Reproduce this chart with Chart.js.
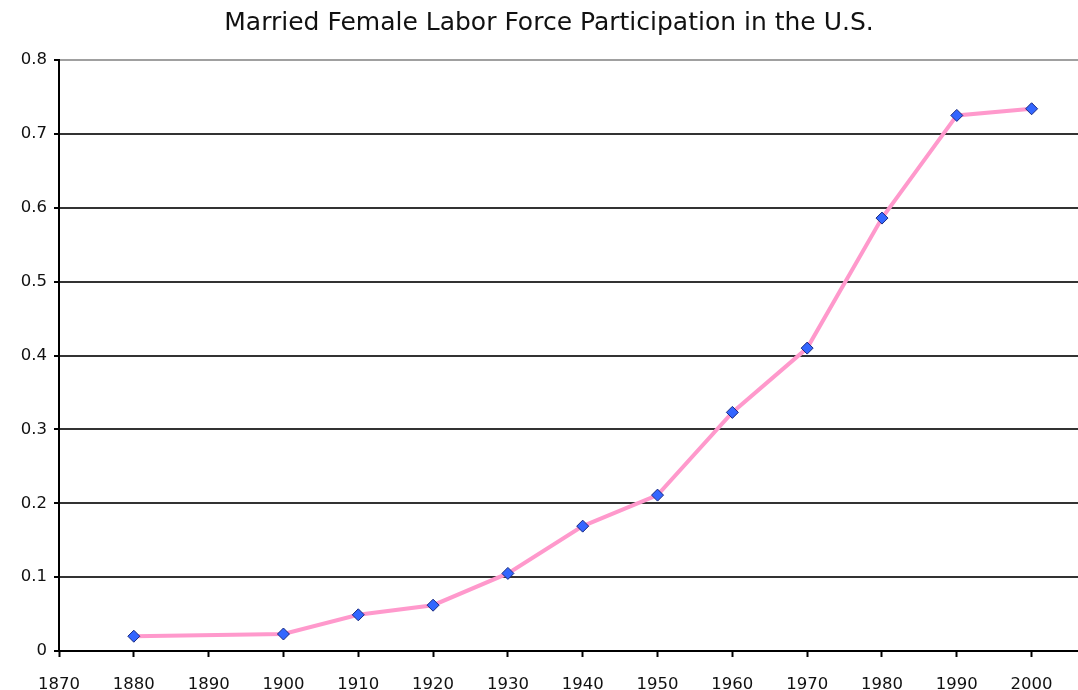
<!DOCTYPE html>
<html>
<head>
<meta charset="utf-8">
<script src="https://cdn.jsdelivr.net/npm/chart.js@4/dist/chart.umd.min.js"></script>
<style>
  html, body { margin: 0; padding: 0; background: #fff; }
  #wrap { width: 1078px; height: 690px; }
</style>
</head>
<body>
<div id="wrap"><canvas id="chart"></canvas></div>
<script>
// data
var years = [1880, 1900, 1910, 1920, 1930, 1940, 1950, 1960, 1970, 1980, 1990, 2000];
var participation = [0.020, 0.023, 0.049, 0.062, 0.105, 0.169, 0.211, 0.323, 0.410, 0.586, 0.725, 0.734];
var xTicks = [1870, 1880, 1890, 1900, 1910, 1920, 1930, 1940, 1950, 1960, 1970, 1980, 1990, 2000];
var yTicks = [0, 0.1, 0.2, 0.3, 0.4, 0.5, 0.6, 0.7, 0.8];

var points = years.map(function (y, i) {
    return { x: y, y: participation[i] };
});

var fontFamily = "'DejaVu Sans', Verdana, sans-serif";

new Chart(document.getElementById("chart"), {
    type: "scatter",
    data: {
        datasets: [{
            data: points,
            showLine: true,
            borderColor: "#ff99cc",
            borderWidth: 4,
            pointStyle: "rectRot",
            pointRadius: 6,
            pointBackgroundColor: "#3366ff",
            pointBorderColor: "#1a2a80",
            pointBorderWidth: 1
        }]
    },
    options: {
        responsive: true,
        maintainAspectRatio: false,
        animation: false,
        // a little left padding nudges the title centre to the right
        layout: { padding: { left: 20, right: 0, top: 0, bottom: 0 }, autoPadding: false },
        plugins: {
            legend: { display: false },
            tooltip: { enabled: false },
            title: {
                display: true,
                text: "Married Female Labor Force Participation in the U.S.",
                color: "#111",
                font: { family: fontFamily, size: 25, weight: "normal" },
                padding: { top: 8, bottom: 22 }
            }
        },
        scales: {
            x: {
                type: "linear",
                min: 1870,
                max: 2006.2,
                afterBuildTicks: function (axis) {
                    axis.ticks = xTicks.map(function (v) { return { value: v }; });
                },
                afterFit: function (axis) {
                    axis.height = 39;
                    axis.paddingLeft = 0;
                    axis.paddingRight = 0;
                },
                border: { display: true, color: "#000", width: 2 },
                grid: {
                    drawOnChartArea: false,
                    drawTicks: true,
                    tickLength: 6,
                    tickColor: "#000",
                    tickWidth: 2
                },
                ticks: {
                    color: "#111",
                    padding: 18,
                    maxRotation: 0,
                    autoSkip: false,
                    font: { family: fontFamily, size: 16.5 },
                    callback: function (v) { return String(v); }
                }
            },
            y: {
                min: 0,
                max: 0.8,
                afterBuildTicks: function (axis) {
                    axis.ticks = yTicks.map(function (v) { return { value: v }; });
                },
                afterFit: function (axis) { axis.width = 39; },
                border: { display: true, color: "#000", width: 2 },
                grid: {
                    color: function (ctx) {
                        return ctx.tick && ctx.tick.value === 0.8 ? "#a0a0a0" : "#333";
                    },
                    lineWidth: 2,
                    drawTicks: true,
                    tickLength: 5,
                    tickColor: "#000"
                },
                ticks: {
                    color: "#111",
                    padding: 7,
                    font: { family: fontFamily, size: 16.5 },
                    callback: function (v) { return v === 0 ? "0" : v.toFixed(1); }
                }
            }
        }
    }
});
</script>
</body>
</html>
